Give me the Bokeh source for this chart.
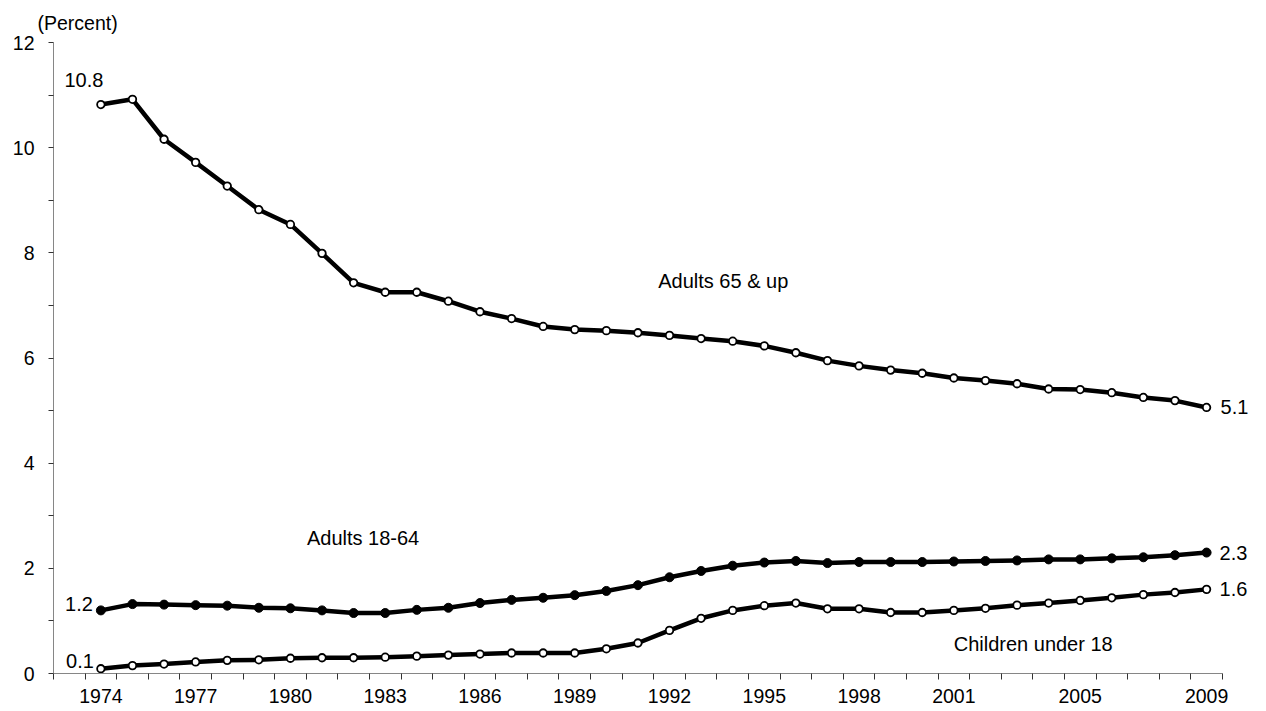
from bokeh.plotting import figure
from bokeh.models import Range1d, FixedTicker, Label, ColumnDataSource
from bokeh.embed import file_html
from bokeh.resources import INLINE

# ---------------- data ----------------
years = [1974, 1975, 1976, 1977, 1978, 1979, 1980, 1981, 1982, 1983, 1984, 1985,
         1986, 1987, 1988, 1989, 1990, 1991, 1992, 1993, 1994, 1995, 1996, 1997,
         1998, 1999, 2000, 2001, 2002, 2003, 2004, 2005, 2006, 2007, 2008, 2009]
adults_65_up = [10.82, 10.92, 10.16, 9.72, 9.27, 8.82, 8.54, 7.99, 7.43, 7.25, 7.25, 7.08,
                6.88, 6.75, 6.60, 6.54, 6.52, 6.48, 6.43, 6.37, 6.32, 6.23, 6.10, 5.95,
                5.85, 5.77, 5.71, 5.62, 5.57, 5.51, 5.41, 5.40, 5.34, 5.25, 5.19, 5.06]
adults_18_64 = [1.20, 1.32, 1.31, 1.30, 1.29, 1.25, 1.24, 1.20, 1.15, 1.15, 1.21, 1.25,
                1.34, 1.40, 1.44, 1.49, 1.57, 1.68, 1.83, 1.95, 2.05, 2.11, 2.14, 2.10,
                2.12, 2.12, 2.12, 2.13, 2.14, 2.15, 2.17, 2.17, 2.19, 2.21, 2.25, 2.30]
children_under_18 = [0.09, 0.15, 0.18, 0.22, 0.25, 0.26, 0.29, 0.30, 0.30, 0.31, 0.33, 0.35,
                     0.37, 0.39, 0.39, 0.39, 0.47, 0.58, 0.82, 1.05, 1.20, 1.29, 1.34, 1.23,
                     1.23, 1.16, 1.16, 1.20, 1.24, 1.30, 1.34, 1.39, 1.44, 1.50, 1.54, 1.60]
x_tick_years = [1974, 1977, 1980, 1983, 1986, 1989, 1992, 1995, 1998, 2001, 2005, 2009]
y_ticks = [0, 2, 4, 6, 8, 10, 12]
y_minor_ticks = [1, 3, 5, 7, 9, 11]
series_names = ["Adults 65 & up", "Adults 18-64", "Children  under 18"]
unit_label = "(Percent)"

FONT = "Liberation Sans"

x_start = years[0] - 1.5
x_end_axis = years[-1] + 0.5

p = figure(width=1266, height=711, output_backend="svg", toolbar_location=None,
           min_border_left=53, min_border_right=4, min_border_top=42, min_border_bottom=38)
p.x_range = Range1d(x_start, 2010.77)
p.y_range = Range1d(0, 12)
p.outline_line_color = None
p.xgrid.visible = False
p.ygrid.visible = False
p.background_fill_color = "white"
p.border_fill_color = "white"

# title used as unit label above the y axis
p.title.text = unit_label
p.title.align = "left"
p.title.offset = -16
p.title.standoff = 17
p.title.text_font = FONT
p.title.text_font_size = "19.5px"
p.title.text_font_style = "normal"
p.title.text_color = "black"

# x axis: labels at selected years, tick marks at category boundaries
xb = [x_start] + [y + 0.5 for y in [years[0] - 1] + years]
p.xaxis.bounds = (x_start, x_end_axis)
p.xaxis.ticker = FixedTicker(ticks=x_tick_years, minor_ticks=sorted(set(xb)))
p.xaxis.major_tick_line_color = None
p.xaxis.major_tick_out = 6
p.xaxis.major_tick_in = 0
p.xaxis.minor_tick_out = 6
p.xaxis.minor_tick_in = 0
p.xaxis.minor_tick_line_color = "#333333"
p.xaxis.axis_line_color = "#868686"
p.xaxis.major_label_standoff = 9
p.xaxis.major_label_text_font = FONT
p.xaxis.major_label_text_font_size = "19.5px"
p.xaxis.major_label_text_color = "black"

p.yaxis.ticker = FixedTicker(ticks=y_ticks, minor_ticks=y_minor_ticks)
p.yaxis.major_tick_out = 5
p.yaxis.major_tick_in = 0
p.yaxis.minor_tick_out = 5
p.yaxis.minor_tick_in = 0
p.yaxis.major_tick_line_color = "#333333"
p.yaxis.minor_tick_line_color = "#333333"
p.yaxis.axis_line_color = "#868686"
p.yaxis.major_label_standoff = 14
p.yaxis.major_label_text_font = FONT
p.yaxis.major_label_text_font_size = "19.5px"
p.yaxis.major_label_text_color = "black"

src = ColumnDataSource(dict(year=years, a65=adults_65_up, a1864=adults_18_64, ch=children_under_18))

# lines
for col in ["a65", "a1864", "ch"]:
    p.line("year", col, source=src, line_color="black", line_width=4.5, line_join="round")

# markers
p.scatter("year", "a65", source=src, size=7.5, fill_color="white", line_color="black", line_width=1.8)
p.scatter("year", "ch", source=src, size=7.5, fill_color="white", line_color="black", line_width=1.8)
p.scatter("year", "a1864", source=src, size=9, fill_color="black", line_color="black", line_width=1)

def lab(x, y, text, xo=0, yo=0, align="left", baseline="alphabetic", size="20px"):
    p.add_layout(Label(x=x, y=y, text=text, x_offset=xo, y_offset=yo + 8, text_align=align,
                       text_baseline=baseline, text_font=FONT, text_font_size=size,
                       text_color="black"))

# end-point value labels
lab(years[0], adults_65_up[0], f"{adults_65_up[0]:.1f}", xo=-17, yo=17, align="center")
lab(years[0], adults_18_64[0], f"{adults_18_64[0]:.1f}", xo=-8, yo=-2, align="right")
lab(years[0], children_under_18[0], f"{children_under_18[0]:.1f}", xo=-7, yo=0, align="right")
lab(years[-1], adults_65_up[-1], f"{adults_65_up[-1]:.1f}", xo=14, yo=-8)
lab(years[-1], adults_18_64[-1], f"{adults_18_64[-1]:.1f}", xo=13, yo=-8)
lab(years[-1], children_under_18[-1], f"{children_under_18[-1]:.1f}", xo=13, yo=-8)

# series names
lab(1993.7, 7.32, series_names[0], align="center")
lab(1982.3, 2.43, series_names[1], align="center")
lab(2003.6, 0.40, series_names[2], align="center")

open("out.html", "w").write(file_html(p, INLINE))
